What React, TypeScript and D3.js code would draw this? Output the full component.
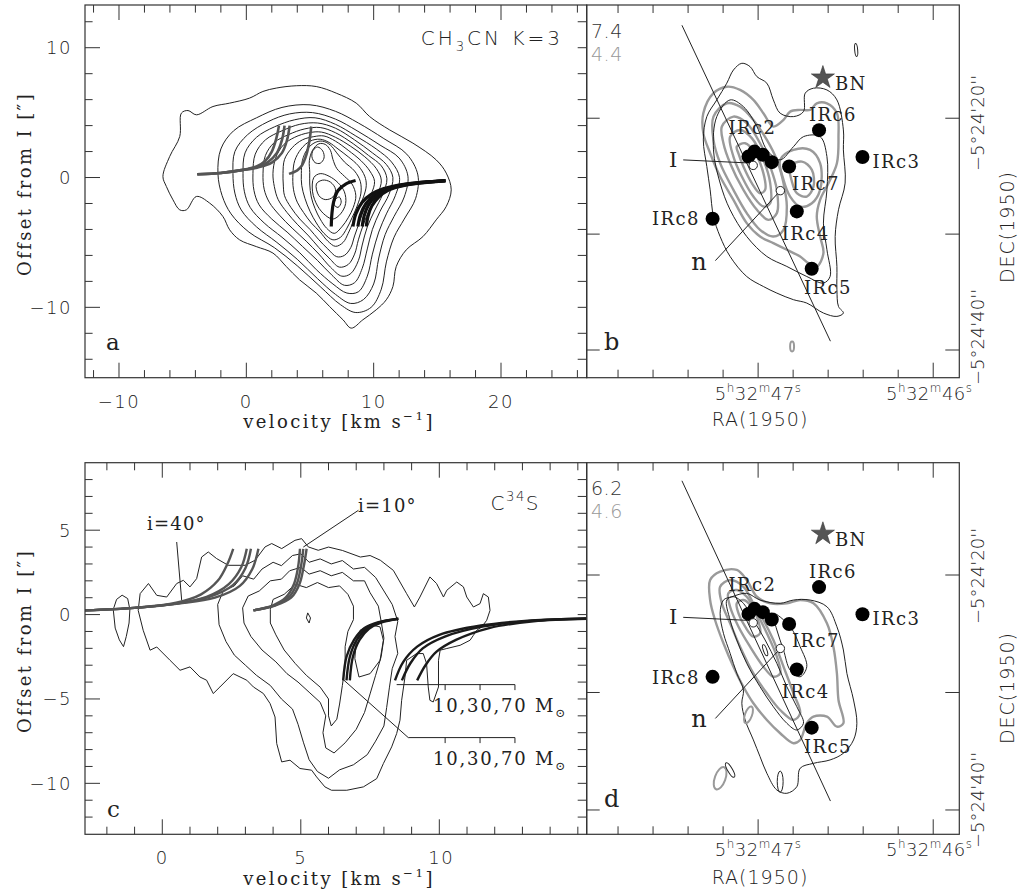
import React, { useEffect, useRef } from 'react';
import * as d3 from 'd3';

type Pt = [number, number];

const SANS = "'DejaVu Sans', Verdana, sans-serif";
const SERIF = "'DejaVu Serif', Georgia, serif";

// ---- axis tick values ----
const aVelMajor = [-10, 0, 10, 20];
const aOffMajor = [-10, 0, 10];
const cVelMajor = [0, 5, 10];
const cOffMajor = [-10, -5, 0, 5];
const raMajor = [47, 46];
const decMajor = [20, 30, 40];
const decLabelVals = [20, 40];

// ---- panel a : CH3CN K=3 p-v contours (velocity, offset) ----
const aContours: Pt[][] = [
  [[-6.55,0.08],[-6.02,1.62],[-5.23,3.16],[-5.1,4.96],[-4.58,5.16],[-3.92,4.83],[-2.62,5.47],[-1.31,5.73],[0.26,6.12],[1.3,6.63],[2.35,6.89],[3.92,7.07],[5.49,7.01],[7.06,6.5],[8.63,5.73],[9.68,4.7],[11.25,3.67],[13.08,2.65],[14.91,1.36],[15.7,0.34],[16.09,-0.95],[15.7,-2.23],[14.91,-3.26],[13.87,-4.55],[12.56,-5.57],[11.77,-6.86],[11.51,-8.4],[10.99,-9.42],[10.2,-10.19],[9.15,-10.96],[8.24,-11.6],[7.59,-10.96],[6.54,-9.94],[5.49,-8.9],[4.18,-7.88],[3.14,-6.86],[2.09,-5.82],[0.78,-5.32],[-0.53,-4.8],[-1.31,-4.03],[-1.84,-3.0],[-2.88,-1.97],[-3.92,-1.46],[-4.71,-2.49],[-5.23,-2.49],[-5.76,-1.72],[-6.28,-0.69]],
  [[-2.23,0.3],[-2.0,2.2],[-1.0,3.6],[0.8,4.6],[2.8,5.4],[5.0,5.6],[7.0,5.1],[8.8,4.2],[10.8,3.0],[12.6,1.8],[13.47,0.2],[13.3,-1.6],[12.4,-3.2],[11.6,-4.6],[11.0,-6.5],[10.6,-8.6],[9.8,-10.0],[8.6,-10.4],[7.4,-9.8],[5.8,-8.4],[4.0,-6.8],[2.2,-5.4],[0.2,-4.2],[-1.2,-2.8],[-1.9,-1.4]],
  [[-1.05,0.3],[-0.9,2.0],[0.1,3.3],[1.7,4.3],[3.4,4.9],[5.2,5.0],[7.0,4.5],[8.7,3.6],[10.5,2.5],[12.0,1.5],[12.69,0.1],[12.4,-1.5],[11.6,-3.0],[10.9,-4.4],[10.4,-6.2],[10.0,-8.2],[9.2,-9.4],[8.2,-9.7],[7.0,-9.0],[5.6,-7.8],[4.0,-6.3],[2.4,-5.0],[0.8,-3.8],[-0.4,-2.5],[-0.9,-1.2]],
  [[-0.26,0.3],[-0.1,1.9],[0.8,3.1],[2.2,3.9],[3.8,4.45],[5.4,4.6],[7.0,4.1],[8.6,3.2],[10.2,2.2],[11.4,1.2],[12.03,0.0],[11.7,-1.4],[11.0,-2.8],[10.4,-4.2],[9.9,-5.9],[9.5,-7.6],[8.8,-8.8],[7.9,-8.9],[6.8,-8.2],[5.5,-7.1],[4.2,-5.8],[2.8,-4.6],[1.4,-3.5],[0.3,-2.3],[-0.15,-1.1]],
  [[0.52,0.3],[0.7,1.8],[1.5,2.9],[2.8,3.6],[4.2,4.1],[5.6,4.2],[7.0,3.8],[8.5,2.9],[9.9,1.9],[11.0,1.0],[11.51,0.0],[11.2,-1.3],[10.5,-2.6],[9.9,-4.0],[9.5,-5.5],[9.1,-7.0],[8.5,-8.1],[7.7,-8.3],[6.7,-7.5],[5.6,-6.4],[4.4,-5.3],[3.2,-4.2],[2.0,-3.2],[1.0,-2.1],[0.6,-1.0]],
  [[1.31,0.3],[1.5,1.7],[2.2,2.7],[3.3,3.3],[4.6,3.75],[5.8,3.85],[7.0,3.45],[8.4,2.6],[9.6,1.7],[10.6,0.9],[11.04,-0.1],[10.7,-1.3],[10.1,-2.5],[9.5,-3.8],[9.1,-5.2],[8.8,-6.4],[8.2,-7.4],[7.5,-7.6],[6.6,-6.9],[5.7,-5.9],[4.7,-4.9],[3.6,-3.9],[2.6,-2.9],[1.8,-1.9],[1.4,-0.9]],
  [[2.09,0.3],[2.3,1.5],[2.9,2.5],[3.8,3.1],[4.9,3.45],[5.9,3.5],[7.0,3.1],[8.2,2.4],[9.3,1.6],[10.2,0.7],[10.6,-0.2],[10.3,-1.3],[9.7,-2.4],[9.2,-3.6],[8.8,-4.8],[8.5,-5.9],[8.0,-6.7],[7.3,-6.9],[6.5,-6.2],[5.7,-5.4],[4.9,-4.5],[4.0,-3.6],[3.2,-2.7],[2.5,-1.7],[2.2,-0.7]],
  [[2.88,0.3],[3.0,1.4],[3.6,2.3],[4.4,2.9],[5.3,3.15],[6.1,3.2],[7.0,2.8],[8.0,2.1],[9.0,1.3],[9.7,0.5],[10.07,-0.3],[9.8,-1.3],[9.3,-2.3],[8.9,-3.4],[8.5,-4.5],[8.2,-5.4],[7.7,-6.0],[7.1,-6.1],[6.4,-5.5],[5.7,-4.8],[5.0,-4.0],[4.2,-3.2],[3.5,-2.3],[3.0,-1.4],[2.9,-0.5]],
  [[3.66,0.3],[3.8,1.3],[4.3,2.2],[5.0,2.8],[5.8,2.95],[6.5,2.7],[7.2,2.2],[8.0,1.6],[8.8,0.9],[9.3,0.1],[9.42,-0.6],[9.2,-1.5],[8.8,-2.4],[8.4,-3.4],[8.0,-4.3],[7.6,-5.0],[7.0,-5.3],[6.4,-4.9],[5.8,-4.2],[5.1,-3.5],[4.5,-2.7],[4.0,-1.9],[3.7,-0.9]],
  [[4.32,0.3],[4.4,1.3],[4.8,2.2],[5.4,2.7],[6.0,2.8],[6.6,2.5],[7.1,1.9],[7.7,1.2],[8.5,0.5],[8.95,-0.3],[9.0,-1.2],[8.7,-2.2],[8.3,-3.1],[7.9,-3.9],[7.4,-4.6],[6.8,-4.8],[6.1,-4.3],[5.5,-3.5],[5.0,-2.6],[4.6,-1.6],[4.35,-0.6]],
  [[4.98,0.4],[4.95,1.3],[5.2,2.1],[5.7,2.6],[6.2,2.55],[6.6,2.1],[6.8,1.4],[7.1,0.7],[7.7,0.1],[8.3,-0.5],[8.6,-1.4],[8.4,-2.3],[8.0,-3.1],[7.5,-3.8],[6.9,-4.3],[6.3,-3.9],[5.8,-3.2],[5.4,-2.4],[5.1,-1.5],[4.98,-0.5]],
  [[5.6,2.35],[6.0,2.05],[6.1,1.5],[5.8,1.1],[5.4,1.15],[5.15,1.6],[5.25,2.1]],
  [[5.3,0.0],[5.8,0.3],[6.5,0.1],[7.2,-0.4],[7.7,-1.1],[7.8,-2.0],[7.4,-2.8],[6.8,-3.2],[6.2,-2.9],[5.6,-2.2],[5.2,-1.1]],
  [[5.5,-0.5],[6.0,-0.2],[6.6,-0.35],[7.0,-0.9],[6.8,-1.5],[6.2,-1.7],[5.7,-1.4]],
  [[7.0,-1.7],[7.3,-1.5],[7.45,-1.9],[7.2,-2.3],[6.9,-2.1]],
];
const aModelGray: Pt[][] = [
  [[-3.85,0.25],[-2,0.35],[-0.5,0.55],[0.8,0.85],[1.5,1.3],[2.0,2.0],[2.35,3.0],[2.56,4.0]],
  [[-3.85,0.25],[-2,0.35],[-0.5,0.55],[0.8,0.8],[1.7,1.2],[2.4,1.9],[2.8,2.9],[3.0,4.0]],
  [[-3.85,0.25],[-2,0.35],[-0.5,0.55],[0.9,0.78],[2.0,1.15],[2.8,1.9],[3.2,2.9],[3.4,4.0]],
  [[3.35,0.28],[4.0,0.55],[4.35,0.9],[4.7,1.7],[4.95,2.8],[5.1,3.93]],
];
const aModelBlack: Pt[][] = [
  [[6.67,-3.77],[6.72,-2.8],[6.85,-1.9],[7.2,-1.0],[7.8,-0.5],[8.58,-0.23]],
  [[8.37,-3.77],[8.6,-2.8],[9.1,-1.9],[9.8,-1.3],[10.8,-0.85],[12.5,-0.5],[15.64,-0.23]],
  [[8.76,-3.77],[8.95,-2.9],[9.4,-2.0],[10.0,-1.4],[10.9,-0.9],[12.5,-0.52],[15.64,-0.24]],
  [[9.1,-3.77],[9.25,-2.95],[9.6,-2.1],[10.2,-1.45],[11.0,-0.95],[12.6,-0.55],[15.64,-0.25]],
  [[9.42,-3.77],[9.55,-3.0],[9.85,-2.2],[10.4,-1.5],[11.1,-1.0],[12.6,-0.57],[15.64,-0.26]],
];

// ---- panel c : C34S p-v contours ----
const cContours: Pt[][] = [
  [[-0.87,0.25],[-0.8,1.24],[-0.5,1.84],[-0.2,1.14],[0.16,1.04],[0.52,1.84],[0.76,2.03],[1.0,1.64],[1.24,2.13],[1.42,3.41],[1.66,3.71],[1.96,3.32],[2.38,2.92],[2.99,2.92],[3.35,3.22],[3.71,4.01],[3.95,4.21],[4.31,3.91],[4.79,4.4],[5.03,4.5],[5.27,4.01],[5.63,3.81],[6.0,4.0],[6.5,3.8],[7.15,3.41],[7.5,3.5],[7.87,3.22],[8.34,2.62],[8.82,1.24],[9.1,0.45],[9.3,1.04],[9.66,2.23],[9.9,1.84],[10.15,1.04],[10.27,1.44],[10.63,1.93],[10.87,1.64],[10.99,1.04],[11.23,0.45],[11.47,0.65],[11.59,1.24],[11.77,1.04],[11.83,0.25],[11.71,-0.34],[11.53,-0.73],[11.35,-0.93],[11.23,-1.23],[11.11,-1.52],[10.75,-1.82],[10.27,-2.01],[10.03,-2.11],[9.97,-2.71],[9.97,-4.29],[9.78,-5.18],[9.66,-5.08],[9.6,-4.29],[9.54,-2.9],[9.42,-2.31],[9.18,-2.31],[8.82,-2.71],[8.76,-3.7],[8.64,-5.08],[8.58,-6.26],[8.46,-7.05],[8.28,-7.84],[7.98,-8.83],[7.74,-9.72],[7.26,-10.21],[6.66,-10.41],[6.11,-10.41],[5.87,-10.21],[5.57,-9.62],[5.39,-9.22],[4.97,-9.12],[4.61,-8.63],[4.31,-8.73],[4.13,-7.64],[4.07,-6.07],[3.89,-5.27],[3.65,-4.68],[3.29,-4.29],[3.05,-3.89],[2.56,-3.5],[2.08,-4.29],[1.84,-4.68],[1.6,-3.89],[1.36,-3.7],[1.0,-3.1],[0.64,-3.3],[0.28,-2.71],[-0.2,-1.92],[-0.44,-2.11],[-0.69,-0.93]],
  [[2.0,0.6],[2.2,1.4],[2.6,1.7],[2.9,2.3],[3.3,2.1],[3.6,2.7],[4.0,3.1],[4.3,2.9],[4.7,3.5],[5.0,3.6],[5.3,3.1],[5.7,3.3],[6.1,3.0],[6.5,3.2],[6.9,2.7],[7.3,2.8],[7.7,2.2],[8.0,1.4],[8.3,0.6],[8.5,-0.4],[8.4,-1.3],[8.5,-2.3],[8.3,-3.2],[8.2,-4.3],[8.1,-5.5],[8.0,-6.6],[7.7,-7.5],[7.4,-8.3],[6.9,-8.9],[6.4,-9.2],[6.0,-9.7],[5.6,-9.3],[5.3,-8.6],[5.1,-7.6],[4.9,-6.5],[4.7,-5.6],[4.3,-5.0],[3.9,-4.2],[3.4,-3.6],[3.0,-3.0],[2.6,-2.4],[2.3,-1.6],[2.05,-0.6]],
  [[2.9,0.4],[3.1,1.1],[3.5,1.4],[3.9,2.0],[4.3,2.1],[4.6,2.6],[5.0,2.8],[5.3,2.4],[5.7,2.6],[6.1,2.3],[6.5,2.5],[6.9,2.0],[7.3,2.0],[7.5,1.3],[7.8,0.5],[7.9,-0.4],[8.0,-1.4],[7.9,-2.5],[7.7,-3.6],[7.5,-4.7],[7.3,-5.8],[7.0,-6.8],[6.6,-7.6],[6.2,-8.2],[5.9,-7.9],[5.8,-7.0],[5.9,-6.0],[5.7,-5.2],[5.3,-4.6],[4.9,-4.0],[4.5,-3.5],[4.1,-2.8],[3.6,-2.1],[3.2,-1.3],[2.95,-0.5]],
  [[3.9,0.3],[4.0,0.9],[4.4,1.2],[4.8,1.8],[5.2,1.6],[5.6,1.9],[6.0,1.6],[6.4,1.7],[6.7,1.2],[6.9,0.5],[6.9,-0.3],[6.7,-1.0],[6.6,-1.9],[6.6,-3.0],[6.5,-4.2],[6.4,-5.3],[6.3,-6.2],[6.1,-6.6],[6.0,-6.0],[6.0,-5.0],[5.7,-4.3],[5.2,-3.6],[4.8,-2.9],[4.4,-2.1],[4.1,-1.2],[3.9,-0.5]],
  [[7.14,-0.93],[7.5,-0.6],[7.86,-0.73],[7.98,-1.52],[7.86,-2.71],[7.5,-3.5],[7.1,-3.7],[6.95,-2.6],[7.0,-1.6]],
  [[5.25,0.1],[5.35,-0.2],[5.3,-0.5],[5.2,-0.2]],
  [[-1.45,1.15],[-1.25,0.95],[-1.17,0.3],[-1.2,-0.5],[-1.3,-1.3],[-1.4,-1.9],[-1.55,-1.5],[-1.7,-0.8],[-1.77,0.3],[-1.65,0.9]],
];
const cModelGray: Pt[][] = [
  [[-2.79,0.25],[-1,0.4],[0.5,0.7],[1.4,1.2],[2.0,2.0],[2.35,3.0],[2.56,3.9]],
  [[-2.79,0.25],[-1,0.4],[0.5,0.65],[1.6,1.05],[2.4,1.8],[2.85,2.8],[3.05,3.9]],
  [[-2.79,0.25],[-1,0.4],[0.5,0.65],[1.7,1.05],[2.55,1.75],[3.0,2.75],[3.2,3.9]],
  [[-2.79,0.25],[-1,0.4],[0.6,0.65],[1.9,1.0],[2.8,1.7],[3.25,2.7],[3.47,3.9]],
  [[3.29,0.25],[4.0,0.55],[4.45,1.0],[4.75,1.8],[4.9,2.8],[4.97,3.9]],
  [[3.29,0.25],[4.05,0.55],[4.55,1.0],[4.85,1.8],[5.0,2.8],[5.09,3.9]],
  [[3.29,0.25],[4.1,0.55],[4.65,1.0],[4.95,1.8],[5.1,2.8],[5.21,3.9]],
];
const cModelBlack: Pt[][] = [
  [[6.53,-3.9],[6.65,-2.5],[6.92,-1.5],[7.3,-0.8],[7.8,-0.45],[8.52,-0.24]],
  [[6.65,-3.9],[6.77,-2.5],[7.02,-1.5],[7.38,-0.82],[7.85,-0.46],[8.52,-0.25]],
  [[6.77,-3.9],[6.88,-2.5],[7.12,-1.5],[7.46,-0.84],[7.9,-0.47],[8.52,-0.26]],
  [[8.4,-3.9],[8.7,-2.8],[9.2,-1.9],[10.0,-1.2],[11.5,-0.65],[13.3,-0.35],[15.4,-0.22]],
  [[8.65,-3.9],[8.95,-2.9],[9.4,-2.0],[10.2,-1.3],[11.6,-0.7],[13.3,-0.37],[15.4,-0.23]],
  [[9.2,-3.9],[9.5,-3.0],[9.9,-2.2],[10.6,-1.5],[11.8,-0.8],[13.4,-0.4],[15.4,-0.25]],
];
const cInclLines = [
  { label: 'i=40°', from: [0.52, 4.3] as Pt, to: [0.7, 0.85] as Pt },
  { label: 'i=10°', from: [7.08, 6.18] as Pt, to: [5.09, 4.0] as Pt },
];
const massValues = ['10', '30', '70'];
const massTickVel = [10.21, 11.47, 12.73];
const massLineUpper: Pt[] = [[8.46, -4.15], [12.73, -4.15]];
const massLineLower: Pt[] = [[6.53, -3.85], [8.88, -7.29], [12.73, -7.29]];

// ---- panels b, d : maps (RA seconds of 5h32m, Dec arcsec of -5d24') ----
const irSources = [
  { id: 'IRc2', ra: 47.021, dec: 22.88 },
  { id: 'IRc2-w', ra: 47.055, dec: 23.31 },
  { id: 'IRc2-b', ra: 46.973, dec: 23.16 },
  { id: 'IRc2-c', ra: 46.922, dec: 23.79 },
  { id: 'IRc7', ra: 46.823, dec: 24.17 },
  { id: 'IRc6', ra: 46.652, dec: 21.03 },
  { id: 'IRc3', ra: 46.404, dec: 23.34 },
  { id: 'IRc4', ra: 46.779, dec: 28.04 },
  { id: 'IRc8', ra: 47.26, dec: 28.67 },
  { id: 'IRc5', ra: 46.694, dec: 32.99 },
];
const bnStar = { id: 'BN', ra: 46.63, dec: 16.5 };
const openSources = [
  { id: 'I', ra: 47.028, dec: 24.07 },
  { id: 'n', ra: 46.873, dec: 26.25 },
];
const cutLine: Pt[] = [[47.435, 11.98], [46.587, 39.24]];

const bBlack: Pt[][] = [
  [[47.093,15.26],[47.046,15.55],[47.007,16.41],[46.95,16.98],[46.913,18.42],[46.874,19.57],[46.798,19.86],[46.741,19.43],[46.731,17.84],[46.684,17.41],[46.607,17.56],[46.55,18.42],[46.513,21.01],[46.513,22.73],[46.503,25.6],[46.541,27.9],[46.56,30.21],[46.55,32.79],[46.55,34.8],[46.541,36.24],[46.513,36.81],[46.55,37.1],[46.627,36.81],[46.722,35.95],[46.798,35.66],[46.893,35.09],[46.97,34.52],[47.065,33.66],[47.16,31.93],[47.217,30.21],[47.255,28.48],[47.274,26.18],[47.293,24.17],[47.313,21.87],[47.293,19.86],[47.236,18.42],[47.179,16.98],[47.141,15.84]],
  [[47.236,19.86],[47.16,18.42],[47.084,19.0],[47.007,20.72],[46.95,22.73],[46.874,23.59],[46.798,22.45],[46.741,21.59],[46.646,21.59],[46.607,23.31],[46.607,26.18],[46.627,29.05],[46.607,31.35],[46.589,33.66],[46.627,34.22],[46.722,33.66],[46.836,32.79],[46.95,31.93],[47.065,30.21],[47.16,27.9],[47.217,25.6],[47.255,22.73]],
];
const bGray: Pt[][] = [
  [[47.313,19.57],[47.255,17.84],[47.179,17.28],[47.103,17.56],[47.027,18.42],[46.97,19.57],[46.913,20.72],[46.855,20.15],[46.817,19.43],[46.76,19.28],[46.703,19.28],[46.665,18.71],[46.607,18.71],[46.55,19.57],[46.541,21.59],[46.55,23.88],[46.598,25.6],[46.646,27.04],[46.665,28.48],[46.646,30.21],[46.627,31.64],[46.665,32.79],[46.713,32.5],[46.76,31.93],[46.836,31.35],[46.913,30.78],[46.989,30.21],[47.065,29.05],[47.141,27.04],[47.217,25.03],[47.274,23.02],[47.313,21.29]],
  [[47.255,19.86],[47.179,18.71],[47.103,19.0],[47.027,20.15],[46.95,21.87],[46.893,23.59],[46.855,25.6],[46.836,27.62],[46.855,29.63],[46.913,30.21],[46.989,29.63],[47.065,28.19],[47.141,26.18],[47.217,23.88],[47.255,21.87]],
  [[47.207,20.72],[47.141,19.86],[47.065,20.43],[46.989,22.16],[46.931,24.17],[46.893,26.18],[46.893,28.19],[46.941,28.77],[47.007,27.9],[47.084,26.18],[47.16,23.88],[47.198,22.16]],
  [[47.16,21.59],[47.103,21.01],[47.036,21.72],[46.97,23.59],[46.931,25.6],[46.931,27.33],[46.97,27.62],[47.027,26.76],[47.093,25.03],[47.141,23.31]],
  [[47.122,22.45],[47.074,22.16],[47.017,23.02],[46.97,24.74],[46.96,26.18],[46.989,26.47],[47.036,25.6],[47.084,24.17],[47.113,23.02]],
  [[46.874,23.59],[46.798,22.73],[46.703,22.73],[46.646,23.88],[46.646,26.18],[46.693,27.33],[46.76,27.62],[46.817,26.76],[46.855,25.32]],
  [[46.817,24.17],[46.75,23.74],[46.693,24.46],[46.684,25.9],[46.722,26.76],[46.779,26.47],[46.807,25.47]],
];
const bSmall = [
  { ra: 46.44, dec: 14.11, rx: 0.13, ry: 0.56, rot: -5, gray: false },
  { ra: 46.806, dec: 39.7, rx: 0.17, ry: 0.43, rot: 0, gray: true },
];

const dBlack: Pt[][] = [
  [[47.15,21.85],[47.065,21.56],[46.989,22.13],[46.874,22.41],[46.798,22.13],[46.703,22.13],[46.607,22.7],[46.55,24.4],[46.513,26.38],[46.493,28.37],[46.455,30.64],[46.436,32.62],[46.455,34.04],[46.513,35.17],[46.589,35.74],[46.684,36.03],[46.76,36.45],[46.779,38.02],[46.836,38.58],[46.893,38.3],[46.95,36.88],[46.989,35.46],[47.027,34.04],[47.074,32.34],[47.093,30.92],[47.084,29.79],[47.122,28.37],[47.16,26.66],[47.198,24.96],[47.217,23.26],[47.198,22.13]],
  [[47.179,22.13],[47.141,21.85],[47.084,22.41],[47.027,23.83],[46.96,25.53],[46.893,27.52],[46.836,29.51],[46.779,31.21],[46.741,32.62],[46.779,33.19],[46.836,32.62],[46.913,31.21],[46.989,29.51],[47.065,27.52],[47.122,25.53],[47.16,23.83]],
  [[46.913,23.26],[46.817,24.4],[46.76,26.1],[46.722,27.8],[46.76,28.66],[46.817,28.09],[46.855,26.38],[46.893,24.68]],
];
const dGray: Pt[][] = [
  [[47.274,20.43],[47.217,19.72],[47.122,19.57],[47.065,20.43],[47.007,21.85],[46.931,22.41],[46.836,22.41],[46.76,22.13],[46.684,22.41],[46.607,24.11],[46.57,26.1],[46.55,28.37],[46.541,30.64],[46.513,32.62],[46.55,32.91],[46.607,32.06],[46.684,32.06],[46.722,32.62],[46.76,34.04],[46.798,34.32],[46.874,33.47],[46.95,32.34],[47.027,30.92],[47.084,29.51],[47.141,27.8],[47.198,25.81],[47.246,23.83],[47.274,22.13]],
  [[47.217,21.0],[47.16,20.43],[47.084,21.0],[47.027,22.41],[46.97,23.83],[46.913,25.53],[46.855,27.8],[46.798,30.07],[46.76,31.77],[46.798,32.34],[46.874,31.49],[46.95,30.07],[47.027,28.37],[47.103,26.1],[47.16,24.11],[47.207,22.41]],
  [[47.17,21.56],[47.122,21.28],[47.065,21.85],[47.007,23.26],[46.95,24.96],[46.893,26.95],[46.874,28.37],[46.913,28.66],[46.97,27.8],[47.046,26.1],[47.112,24.4],[47.16,22.7]],
  [[47.122,22.41],[47.084,22.13],[47.036,22.7],[46.998,23.97],[46.989,24.96],[47.027,25.25],[47.074,24.4],[47.112,23.26]],
];
const dSmall = [
  { ra: 47.217, dec: 37.3, rx: 0.45, ry: 1.0, rot: 20, gray: true },
  { ra: 47.16, dec: 36.6, rx: 0.2, ry: 0.7, rot: -30, gray: false },
  { ra: 46.874, dec: 37.59, rx: 0.25, ry: 0.9, rot: 0, gray: false },
  { ra: 47.055, dec: 31.9, rx: 0.3, ry: 0.75, rot: 20, gray: true },
  { ra: 46.96, dec: 26.4, rx: 0.15, ry: 0.5, rot: -20, gray: false },
];
const bLevels = ['7.4', '4.4'];
const dLevels = ['6.2', '4.6'];

// label placement (pixel offsets from the marked source)
const labelLayout: Record<string, { dx: number; dy: number; anchor: string }> = {
  IRc2: { dx: -26, dy: -18, anchor: 'start' },
  IRc7: { dx: 3, dy: 23.3, anchor: 'start' },
  IRc6: { dx: -10, dy: -9.5, anchor: 'start' },
  IRc3: { dx: 10, dy: 10.7, anchor: 'start' },
  IRc4: { dx: -15, dy: 28.3, anchor: 'start' },
  IRc8: { dx: -12.7, dy: 6.7, anchor: 'end' },
  IRc5: { dx: -7.7, dy: 25.7, anchor: 'start' },
  BN: { dx: 12, dy: 12, anchor: 'start' },
};

const PA = { x0: 85, x1: 586.7, y0: 5, y1: 377.7 };
const PC = { x0: 85, x1: 586.7, y0: 462.7, y1: 834.3 };
const PB = { x0: 586.7, x1: 959.3, y0: 5, y1: 377.7 };
const PD = { x0: 586.7, x1: 959.3, y0: 462.7, y1: 834.3 };

type Part = [string, string?];

function App() {
  const ref = useRef<SVGSVGElement>(null);

  useEffect(() => {
    const svg = d3.select(ref.current);
    svg.selectAll('*').remove();

    const xA = d3.scaleLinear().domain([-12.67, 26.73]).range([PA.x0, PA.x1]);
    const yA = d3.scaleLinear().domain([-15.42, 13.29]).range([PA.y1, PA.y0]);
    const xC = d3.scaleLinear().domain([-2.79, 15.32]).range([PC.x0, PC.x1]);
    const yC = d3.scaleLinear().domain([-13.02, 9.0]).range([PC.y1, PC.y0]);
    const xB = d3.scaleLinear().domain([47.979, 45.851]).range([PB.x0, PB.x1]);
    const yB = d3.scaleLinear().domain([10.23, 42.39]).range([PB.y0, PB.y1]);
    const xD = xB.copy().range([PD.x0, PD.x1]);
    const yD = d3.scaleLinear().domain([10.44, 42.07]).range([PD.y0, PD.y1]);

    const defs = svg.append('defs');
    [['clipA', PA], ['clipB', PB], ['clipC', PC], ['clipD', PD]].forEach(([id, P]: any) => {
      defs.append('clipPath').attr('id', id).append('rect')
        .attr('x', P.x0).attr('y', P.y0).attr('width', P.x1 - P.x0).attr('height', P.y1 - P.y0);
    });

    const ink = '#222';

    const rich = (g: any, x: number, y: number, parts: Part[], o: any) => {
      const size = o.size;
      const t = g.append('text').attr('x', x).attr('y', y)
        .attr('font-family', o.font).attr('font-size', size)
        .attr('text-anchor', o.anchor || 'start').attr('fill', o.fill || ink);
      if (o.weight) t.attr('font-weight', o.weight);
      if (o.ls) t.attr('letter-spacing', o.ls);
      if (o.rotate) t.attr('transform', `rotate(${o.rotate},${x},${y})`);
      let shift = 0;
      parts.forEach(([s, kind]) => {
        const target = kind === 'sup' ? -0.45 * size : kind === 'sub' ? 0.3 * size : 0;
        const ts = t.append('tspan').text(s).attr('dy', target - shift);
        if (kind) ts.attr('font-size', size * 0.66);
        shift = target;
      });
      return t;
    };

    const ticksX = (g: any, sc: any, vals: number[], y: number, len: (v: number) => number) => {
      vals.forEach(v => {
        g.append('line').attr('x1', sc(v)).attr('x2', sc(v)).attr('y1', y).attr('y2', y + len(v))
          .attr('stroke', '#333').attr('stroke-width', 1);
      });
    };
    const ticksY = (g: any, sc: any, vals: number[], x: number, len: (v: number) => number) => {
      vals.forEach(v => {
        g.append('line').attr('y1', sc(v)).attr('y2', sc(v)).attr('x1', x).attr('x2', x + len(v))
          .attr('stroke', '#333').attr('stroke-width', 1);
      });
    };
    const frame = (P: any) => {
      svg.append('rect').attr('x', P.x0).attr('y', P.y0).attr('width', P.x1 - P.x0).attr('height', P.y1 - P.y0)
        .attr('fill', 'none').attr('stroke', '#333').attr('stroke-width', 1.2);
    };

    const closedSmooth = (x: any, y: any) => d3.line<Pt>().x(d => x(d[0])).y(d => y(d[1])).curve(d3.curveCatmullRomClosed.alpha(0.5));
    const closedJag = (x: any, y: any) => d3.line<Pt>().x(d => x(d[0])).y(d => y(d[1])).curve(d3.curveLinearClosed);
    const openSmooth = (x: any, y: any) => d3.line<Pt>().x(d => x(d[0])).y(d => y(d[1])).curve(d3.curveCatmullRom.alpha(0.5));
    const straight = (x: any, y: any) => d3.line<Pt>().x(d => x(d[0])).y(d => y(d[1]));
    const num = (v: number) => (v < 0 ? '\u2212' + Math.abs(v) : String(v));

    // ================= panel a =================
    const gA = svg.append('g').attr('clip-path', 'url(#clipA)');
    gA.selectAll('path.ca').data(aContours).enter().append('path')
      .attr('d', closedSmooth(xA, yA)).attr('fill', 'none').attr('stroke', ink).attr('stroke-width', 1);
    gA.selectAll('path.mg').data(aModelGray).enter().append('path')
      .attr('d', openSmooth(xA, yA)).attr('fill', 'none').attr('stroke', '#555').attr('stroke-width', 2.6);
    gA.selectAll('path.mb').data(aModelBlack).enter().append('path')
      .attr('d', openSmooth(xA, yA)).attr('fill', 'none').attr('stroke', '#111').attr('stroke-width', 3.2);

    const aXt = d3.range(-12, 27, 2);
    const aYt = d3.range(-14, 13, 2);
    const majA = (arr: number[], L: number, S: number) => (v: number) => (arr.includes(v) ? L : S);
    ticksX(svg, xA, aXt, PA.y1, v => -majA(aVelMajor, 15, 7.6)(v));
    ticksX(svg, xA, aXt, PA.y0, majA(aVelMajor, 15, 7.6));
    ticksY(svg, yA, aYt, PA.x0, majA(aOffMajor, 15, 7.6));
    ticksY(svg, yA, aYt, PA.x1, () => -9);
    frame(PA);

    aVelMajor.forEach(v => rich(svg, xA(v), 408, [[num(v)]], { font: SANS, size: 18, anchor: 'middle', ls: 1.5, weight: 300 }));
    aOffMajor.forEach(v => rich(svg, 72, yA(v) + 6.5, [[num(v)]], { font: SANS, size: 18, anchor: 'end', ls: 1.5, weight: 300 }));
    rich(svg, 339, 428, [['velocity [km s'], ['\u22121', 'sup'], [']']], { font: SERIF, size: 18, anchor: 'middle', ls: 2.4 });
    rich(svg, 31, 184, [['Offset from I [\u2033]']], { font: SERIF, size: 18, anchor: 'middle', ls: 2.4, rotate: -90 });
    rich(svg, 563, 45, [['CH'], ['3', 'sub'], ['CN K=3']], { font: SANS, size: 20, anchor: 'end', ls: 3, weight: 300 });
    rich(svg, 106, 350, [['a']], { font: SERIF, size: 23 });

    // ================= panel c =================
    const gC = svg.append('g').attr('clip-path', 'url(#clipC)');
    gC.selectAll('path.cc').data(cContours).enter().append('path')
      .attr('d', closedJag(xC, yC)).attr('fill', 'none').attr('stroke', ink).attr('stroke-width', 1);
    gC.selectAll('path.mg').data(cModelGray).enter().append('path')
      .attr('d', openSmooth(xC, yC)).attr('fill', 'none').attr('stroke', '#555').attr('stroke-width', 2.4);
    gC.selectAll('path.mb').data(cModelBlack).enter().append('path')
      .attr('d', openSmooth(xC, yC)).attr('fill', 'none').attr('stroke', '#1a1a1a').attr('stroke-width', 2.4);
    cInclLines.forEach(l => {
      gC.append('path').attr('d', straight(xC, yC)([l.from, l.to])).attr('stroke', ink).attr('stroke-width', 1).attr('fill', 'none');
    });
    [massLineUpper, massLineLower].forEach(line => {
      gC.append('path').attr('d', straight(xC, yC)(line)).attr('stroke', ink).attr('stroke-width', 1).attr('fill', 'none');
      const yy = yC(line[line.length - 1][1]);
      massTickVel.forEach(v => {
        gC.append('line').attr('x1', xC(v)).attr('x2', xC(v)).attr('y1', yy).attr('y2', yy + 5.5).attr('stroke', ink);
      });
    });
    rich(svg, 147, 530, [[cInclLines[0].label]], { font: SERIF, size: 18, ls: 1.2 });
    rich(svg, 358, 511.5, [[cInclLines[1].label]], { font: SERIF, size: 18, ls: 1.2 });
    rich(svg, 433, yC(massLineUpper[1][1]) + 27, [[massValues.join(',') + ' M'], ['\u2299', 'sub']], { font: SERIF, size: 18, ls: 1.8 });
    rich(svg, 433, yC(massLineLower[2][1]) + 27, [[massValues.join(',') + ' M'], ['\u2299', 'sub']], { font: SERIF, size: 18, ls: 1.8 });

    const cXt = d3.range(-2, 16, 1);
    const cYt = d3.range(-12, 9, 1);
    ticksX(svg, xC, cXt, PC.y1, v => -majA(cVelMajor, 15, 7.6)(v));
    ticksX(svg, xC, cXt, PC.y0, majA(cVelMajor, 15, 7.6));
    ticksY(svg, yC, cYt, PC.x0, majA(cOffMajor, 15, 7.6));
    ticksY(svg, yC, cYt, PC.x1, () => -9);
    frame(PC);
    cVelMajor.forEach(v => rich(svg, xC(v) + (v === 10 ? 2 : 0), 864, [[String(v)]], { font: SANS, size: 18, anchor: 'middle', ls: 1.5, weight: 300 }));
    cOffMajor.forEach(v => rich(svg, 72, yC(v) + 6.5, [[num(v)]], { font: SANS, size: 18, anchor: 'end', ls: 1.5, weight: 300 }));
    rich(svg, 339, 885, [['velocity [km s'], ['\u22121', 'sup'], [']']], { font: SERIF, size: 18, anchor: 'middle', ls: 2.4 });
    rich(svg, 31, 641, [['Offset from I [\u2033]']], { font: SERIF, size: 18, anchor: 'middle', ls: 2.4, rotate: -90 });
    rich(svg, 540, 510, [['C'], ['34', 'sup'], ['S']], { font: SANS, size: 20, anchor: 'end', ls: 1.5, weight: 300 });
    rich(svg, 107, 817, [['c']], { font: SERIF, size: 23 });

    // ================= maps b & d =================
    const drawMap = (P: any, x: any, y: any, clip: string, blacks: Pt[][], grays: Pt[][], smalls: any[], levels: string[], letter: string, raLabelY: number, raTitleY: number, decLabelYs: number[], decTitleY: number) => {
      const g = svg.append('g').attr('clip-path', `url(#${clip})`);
      const k = Math.abs(y(1) - y(0));
      g.selectAll('path.gray').data(grays).enter().append('path')
        .attr('d', closedSmooth(x, y)).attr('fill', 'none').attr('stroke', '#9a9a9a').attr('stroke-width', 2.4);
      g.selectAll('path.blk').data(blacks).enter().append('path')
        .attr('d', closedSmooth(x, y)).attr('fill', 'none').attr('stroke', ink).attr('stroke-width', 1);
      smalls.forEach(s => {
        g.append('ellipse').attr('cx', x(s.ra)).attr('cy', y(s.dec)).attr('rx', s.rx * k).attr('ry', s.ry * k)
          .attr('transform', `rotate(${s.rot},${x(s.ra)},${y(s.dec)})`)
          .attr('fill', 'none').attr('stroke', s.gray ? '#9a9a9a' : ink).attr('stroke-width', s.gray ? 2 : 1);
      });
      g.append('path').attr('d', straight(x, y)(cutLine)).attr('stroke', ink).attr('stroke-width', 1).attr('fill', 'none');

      // leader lines for I and n
      const I = openSources[0], n = openSources[1];
      g.append('line').attr('x1', x(I.ra) - 70).attr('y1', y(I.dec) - 5.5).attr('x2', x(I.ra) - 6).attr('y2', y(I.dec) - 2.5).attr('stroke', ink);
      g.append('line').attr('x1', x(n.ra) - 65).attr('y1', y(n.dec) + 70).attr('x2', x(n.ra) - 2.2).attr('y2', y(n.dec) + 2.4).attr('stroke', ink);

      irSources.forEach(s => {
        g.append('circle').attr('cx', x(s.ra)).attr('cy', y(s.dec)).attr('r', 7).attr('fill', '#000');
      });
      openSources.forEach(s => {
        g.append('circle').attr('cx', x(s.ra)).attr('cy', y(s.dec)).attr('r', 4.2).attr('fill', '#fff').attr('stroke', ink).attr('stroke-width', 1);
      });
      g.append('path').attr('d', d3.symbol().type(d3.symbolStar).size(165)())
        .attr('transform', `translate(${x(bnStar.ra)},${y(bnStar.dec)})`).attr('fill', '#555').attr('stroke', '#333').attr('stroke-width', 0.6);

      irSources.filter(s => labelLayout[s.id]).forEach(s => {
        const L = labelLayout[s.id];
        rich(svg, x(s.ra) + L.dx, y(s.dec) + L.dy, [[s.id]], { font: SERIF, size: 18, anchor: L.anchor, ls: 1.4 });
      });
      const LB = labelLayout.BN;
      rich(svg, x(bnStar.ra) + LB.dx, y(bnStar.dec) + LB.dy, [[bnStar.id]], { font: SERIF, size: 18, ls: 1.4 });
      rich(svg, x(I.ra) - 76, y(I.dec) + 1.5, [['I']], { font: SERIF, size: 21, anchor: 'end' });
      rich(svg, x(n.ra) - 89, y(n.dec) + 79, [['n']], { font: SERIF, size: 24 });

      // ticks
      const raT = d3.range(0, 10).map(i => +(46 + i * 0.2).toFixed(1));
      const isMaj = (v: number) => raMajor.some(m => Math.abs(m - v) < 1e-6);
      ticksX(svg, x, raT, P.y1, v => (isMaj(v) ? -15 : -8));
      ticksX(svg, x, raT, P.y0, v => (isMaj(v) ? 15 : 8));
      ticksY(svg, y, decMajor, P.x0, () => 13);
      ticksY(svg, y, decMajor, P.x1, () => -14);
      frame(P);

      rich(svg, 591, P.y0 + 32.5, [[levels[0]]], { font: SANS, size: 19, fill: '#333', weight: 300, ls: 0.5 });
      rich(svg, 591, P.y0 + 55.5, [[levels[1]]], { font: SANS, size: 19, fill: '#999', weight: 300, ls: 0.5 });
      rich(svg, 604, P.y1 - 27.5, [[letter]], { font: SERIF, size: 24 });

      rich(svg, x(47), raLabelY, [['5'], ['h', 'sup'], ['32'], ['m', 'sup'], ['47'], ['s', 'sup']], { font: SANS, size: 18, anchor: 'middle', weight: 300, ls: 0.5 });
      rich(svg, x(46) - 4, raLabelY, [['5'], ['h', 'sup'], ['32'], ['m', 'sup'], ['46'], ['s', 'sup']], { font: SANS, size: 18, anchor: 'middle', weight: 300, ls: 0.5 });
      rich(svg, 760, raTitleY, [['RA(1950)']], { font: SANS, size: 19, anchor: 'middle', weight: 300, ls: 1 });
      decLabelVals.forEach((v, i) => {
        rich(svg, 984, decLabelYs[i], [["\u22125\u00b024'" + v + "''"]], { font: SANS, size: 18, anchor: 'middle', weight: 300, rotate: -90 });
      });
      rich(svg, 1014, decTitleY, [['DEC(1950)']], { font: SANS, size: 19, anchor: 'middle', weight: 300, ls: 1, rotate: -90 });
    };

    drawMap(PB, xB, yB, 'clipB', bBlack, bGray, bSmall, bLevels, 'b', 400, 426, [123, 337], 227);
    drawMap(PD, xD, yD, 'clipD', dBlack, dGray, dSmall, dLevels, 'd', 856, 884, [576, 800], 688);
  }, []);

  return (
    <svg ref={ref} width={1019} height={896}
      style={{ position: 'absolute', left: 0, top: 0, background: '#fff' }} />
  );
}

export default App;
